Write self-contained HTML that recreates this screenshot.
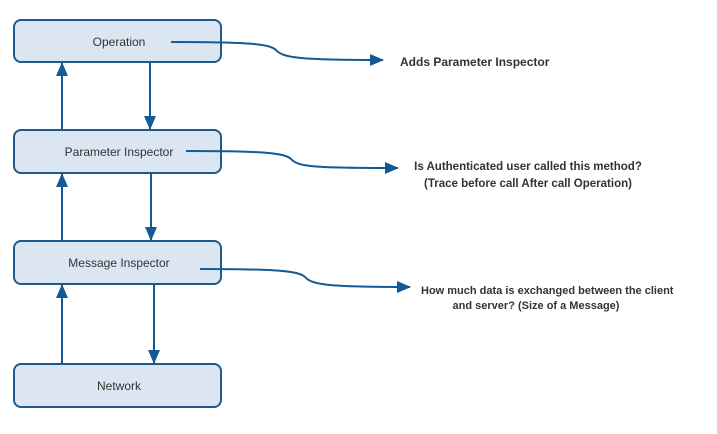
<!DOCTYPE html>
<html><head><style>
body{margin:0;background:#fff;width:717px;height:429px;overflow:hidden}
</style></head><body>
<svg width="717" height="429" xmlns="http://www.w3.org/2000/svg" font-family="Liberation Sans, sans-serif">
<defs><marker id="b" markerWidth="14" markerHeight="12" refX="13" refY="6" orient="auto" markerUnits="userSpaceOnUse"><path d="M0,0L14,6L0,12z" fill="#135a96"/></marker></defs>
<g fill="#dce6f2" stroke="#1f5a8c" stroke-width="2">
<rect x="14" y="20" width="207" height="42" rx="7"/>
<rect x="14" y="130" width="207" height="43" rx="7"/>
<rect x="14" y="241" width="207" height="43" rx="7"/>
<rect x="14" y="364" width="207" height="43" rx="7"/>
</g>
<g fill="#333" font-size="12" text-anchor="middle">
<text x="119" y="46">Operation</text>
<text x="119" y="156">Parameter Inspector</text>
<text x="119" y="267">Message Inspector</text>
<text x="119" y="390">Network</text>
</g>
<g stroke="#135a96" stroke-width="2" fill="none" marker-end="url(#b)">
<path d="M62 130V63"/><path d="M150 62V129"/>
<path d="M62 241V174"/><path d="M151 173V240"/>
<path d="M62 364V285"/><path d="M154 284V363"/>
<path d="M171 42C250 42 270 44 276 50C283 58 300 60 383 60"/>
<path d="M186 151C265 151 285 153 291 159C298 167 315 168 398 168"/>
<path d="M200 269C279 269 299 271 305 277C312 285 329 287 410 287"/>
</g>
<g fill="#333" font-size="11" font-weight="bold">
<text x="400" y="66" font-size="12">Adds Parameter Inspector</text>
<text x="528" y="170" text-anchor="middle" font-size="11.5">Is Authenticated user called this method?</text>
<text x="528" y="187" text-anchor="middle" font-size="11.5">(Trace before call After call Operation)</text>
<text x="421" y="294">How much data is exchanged between the client</text>
<text x="536" y="309" text-anchor="middle">and server? (Size of a Message)</text>
</g>
</svg>
</body></html>
